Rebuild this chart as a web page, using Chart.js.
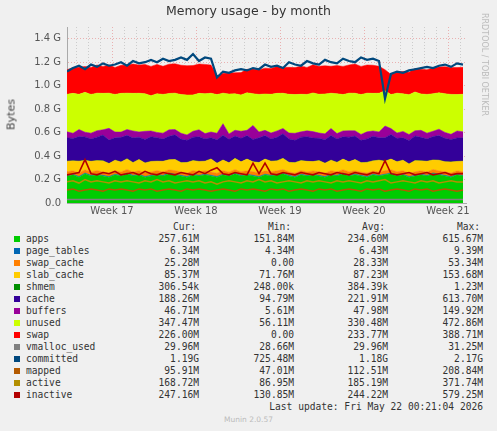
<!DOCTYPE html>
<html><head><meta charset="utf-8">
<script src="https://cdn.jsdelivr.net/npm/chart.js@4/dist/chart.umd.min.js"></script>
<style>
body{margin:0;background:#F0F0F0;width:497px;height:431px;overflow:hidden;position:relative;font-family:"DejaVu Sans",sans-serif}
#wrap{position:absolute;left:0;top:0;width:497px;height:220px}
.t{position:absolute;white-space:pre;font-family:"DejaVu Sans Mono",monospace;font-size:9.6px;color:#333}
.r{text-align:right}
.sq{position:absolute;width:6px;height:6px}
</style></head><body>
<div id="wrap"><canvas id="c" width="497" height="220"></canvas></div>
<div style="position:absolute;left:0;width:497px;top:3px;text-align:center;font-size:12.5px;color:#333">Memory usage - by month</div>
<div style="position:absolute;left:-19px;top:108px;transform:rotate(-90deg);font-size:11px;font-weight:normal;color:#444;width:60px;text-align:center">Bytes</div>
<div style="position:absolute;left:433px;top:60px;transform:rotate(90deg);font-size:8px;color:#bbb;white-space:nowrap">RRDTOOL / TOBI OETIKER</div>
<div id="leg"></div>
<script>
const weekLabels=["Week 17","Week 18","Week 19","Week 20","Week 21"];
const days=[];for(let i=0;i<67;i++)days.push(i/2);
const apps=[0.23,0.24,0.22,0.25,0.23,0.24,0.23,0.22,0.24,0.23,
0.25,0.23,0.24,0.22,0.23,0.24,0.23,0.25,0.24,0.23,
0.22,0.24,0.23,0.24,0.23,0.22,0.24,0.23,0.25,0.23,
0.24,0.23,0.22,0.24,0.23,0.24,0.25,0.23,0.22,0.24,
0.23,0.24,0.23,0.22,0.24,0.23,0.25,0.23,0.24,0.23,
0.22,0.24,0.23,0.24,0.25,0.23,0.24,0.22,0.23,0.24,
0.23,0.25,0.24,0.23,0.22,0.24,0.23];
const pageTables=[0.006,0.006,0.006,0.006,0.006,0.006,0.006,0.006,0.006,0.006,
0.006,0.006,0.006,0.006,0.006,0.006,0.006,0.006,0.006,0.006,
0.006,0.006,0.006,0.006,0.006,0.006,0.006,0.006,0.006,0.006,
0.006,0.006,0.006,0.006,0.006,0.006,0.006,0.006,0.006,0.006,
0.006,0.006,0.006,0.006,0.006,0.006,0.006,0.006,0.006,0.006,
0.006,0.006,0.006,0.006,0.006,0.006,0.006,0.006,0.006,0.006,
0.006,0.006,0.006,0.006,0.006,0.006,0.006];
const swapCache=[0.03,0.028,0.03,0.027,0.029,0.03,0.028,0.03,0.029,0.028,
0.03,0.028,0.029,0.03,0.028,0.03,0.029,0.027,0.03,0.028,
0.029,0.03,0.028,0.03,0.029,0.028,0.03,0.027,0.029,0.03,
0.028,0.03,0.029,0.028,0.03,0.028,0.029,0.03,0.028,0.03,
0.029,0.027,0.03,0.028,0.029,0.03,0.028,0.03,0.029,0.028,
0.03,0.028,0.029,0.03,0.028,0.03,0.029,0.027,0.03,0.028,
0.029,0.03,0.028,0.03,0.029,0.028,0.03];
const slabCache=[0.09,0.085,0.1,0.08,0.09,0.085,0.095,0.08,0.09,0.085,
0.09,0.08,0.095,0.085,0.09,0.08,0.09,0.085,0.095,0.08,
0.09,0.085,0.09,0.08,0.11,0.085,0.09,0.08,0.095,0.085,
0.1,0.085,0.09,0.1,0.09,0.085,0.095,0.08,0.09,0.085,
0.09,0.08,0.095,0.085,0.09,0.08,0.09,0.085,0.095,0.08,
0.09,0.085,0.1,0.08,0.09,0.085,0.09,0.08,0.095,0.085,
0.09,0.08,0.09,0.085,0.095,0.08,0.09];
const shmem=[0.0004,0.0004,0.0004,0.0004,0.0004,0.0004,0.0004,0.0004,0.0004,0.0004,
0.0004,0.0004,0.0004,0.0004,0.0004,0.0004,0.0004,0.0004,0.0004,0.0004,
0.0004,0.0004,0.0004,0.0004,0.0004,0.0004,0.0004,0.0004,0.0004,0.0004,
0.0004,0.0004,0.0004,0.0004,0.0004,0.0004,0.0004,0.0004,0.0004,0.0004,
0.0004,0.0004,0.0004,0.0004,0.0004,0.0004,0.0004,0.0004,0.0004,0.0004,
0.0004,0.0004,0.0004,0.0004,0.0004,0.0004,0.0004,0.0004,0.0004,0.0004,
0.0004,0.0004,0.0004,0.0004,0.0004,0.0004,0.0004];
const cache=[0.2,0.19,0.21,0.2,0.19,0.2,0.22,0.2,0.19,0.21,
0.2,0.21,0.19,0.2,0.21,0.2,0.19,0.2,0.21,0.2,
0.19,0.2,0.21,0.19,0.18,0.2,0.21,0.2,0.19,0.2,
0.2,0.19,0.21,0.2,0.19,0.2,0.21,0.2,0.19,0.2,
0.21,0.2,0.19,0.2,0.21,0.2,0.19,0.21,0.2,0.19,
0.2,0.21,0.19,0.2,0.21,0.2,0.19,0.2,0.21,0.2,
0.19,0.2,0.21,0.2,0.19,0.2,0.2];
const buffers=[0.05,0.045,0.06,0.04,0.05,0.055,0.045,0.1,0.05,0.045,
0.05,0.06,0.045,0.07,0.05,0.045,0.05,0.055,0.045,0.05,
0.045,0.05,0.06,0.045,0.05,0.055,0.1,0.045,0.05,0.06,
0.045,0.12,0.05,0.045,0.05,0.055,0.045,0.05,0.06,0.045,
0.05,0.055,0.045,0.05,0.06,0.045,0.05,0.055,0.045,0.05,
0.06,0.045,0.05,0.1,0.05,0.045,0.055,0.05,0.045,0.06,
0.05,0.045,0.055,0.05,0.045,0.06,0.05];
const unused=[0.32,0.34,0.3,0.34,0.33,0.32,0.31,0.3,0.32,0.33,
0.31,0.32,0.33,0.32,0.3,0.33,0.33,0.31,0.31,0.33,
0.34,0.31,0.31,0.34,0.33,0.33,0.26,0.34,0.31,0.31,
0.32,0.27,0.32,0.31,0.33,0.32,0.3,0.33,0.33,0.32,
0.31,0.33,0.33,0.34,0.3,0.34,0.31,0.32,0.32,0.34,
0.33,0.32,0.33,0.3,0.29,0.34,0.32,0.34,0.33,0.31,
0.33,0.32,0.31,0.33,0.34,0.31,0.32];
const swap=[0.21,0.22,0.23,0.22,0.23,0.24,0.23,0.24,0.23,0.24,
0.24,0.25,0.24,0.25,0.25,0.25,0.24,0.25,0.25,0.25,
0.25,0.25,0.25,0.25,0.24,0.16,0.17,0.18,0.18,0.19,
0.2,0.21,0.21,0.22,0.22,0.23,0.22,0.23,0.23,0.24,
0.23,0.24,0.24,0.24,0.23,0.24,0.24,0.24,0.25,0.24,
0.24,0.24,0.23,0.18,0.17,0.18,0.19,0.19,0.2,0.21,
0.21,0.22,0.22,0.23,0.23,0.23,0.23];
const vmallocUsed=[0.03,0.03,0.03,0.03,0.03,0.03,0.03,0.03,0.03,0.03,
0.03,0.03,0.03,0.03,0.03,0.03,0.03,0.03,0.03,0.03,
0.03,0.03,0.03,0.03,0.03,0.03,0.03,0.03,0.03,0.03,
0.03,0.03,0.03,0.03,0.03,0.03,0.03,0.03,0.03,0.03,
0.03,0.03,0.03,0.03,0.03,0.03,0.03,0.03,0.03,0.03,
0.03,0.03,0.03,0.03,0.03,0.03,0.03,0.03,0.03,0.03,
0.03,0.03,0.03,0.03,0.03,0.03,0.03];
const committed=[1.12,1.15,1.17,1.14,1.18,1.16,1.19,1.17,1.18,1.2,
1.17,1.21,1.19,1.2,1.22,1.2,1.23,1.21,1.22,1.24,
1.22,1.27,1.21,1.24,1.23,1.07,1.12,1.11,1.13,1.14,
1.13,1.15,1.14,1.18,1.16,1.17,1.15,1.2,1.18,1.17,
1.21,1.19,1.18,1.22,1.2,1.19,1.23,1.21,1.2,1.24,
1.22,1.23,1.21,0.89,1.1,1.12,1.11,1.13,1.14,1.15,
1.16,1.15,1.17,1.18,1.16,1.19,1.18];
const mapped=[0.11,0.12,0.1,0.11,0.12,0.11,0.1,0.12,0.11,0.12,
0.11,0.1,0.12,0.11,0.12,0.1,0.11,0.12,0.11,0.1,
0.12,0.11,0.12,0.11,0.1,0.11,0.12,0.11,0.1,0.12,
0.11,0.12,0.11,0.1,0.12,0.11,0.12,0.1,0.11,0.12,
0.11,0.1,0.12,0.11,0.12,0.1,0.11,0.12,0.11,0.1,
0.12,0.11,0.12,0.1,0.11,0.12,0.11,0.1,0.12,0.11,
0.12,0.1,0.11,0.12,0.11,0.1,0.11];
const active=[0.18,0.19,0.17,0.2,0.18,0.19,0.18,0.17,0.19,0.18,
0.19,0.18,0.17,0.19,0.18,0.2,0.18,0.19,0.17,0.18,
0.19,0.18,0.19,0.17,0.18,0.16,0.18,0.19,0.18,0.17,
0.19,0.18,0.2,0.18,0.19,0.17,0.18,0.19,0.18,0.17,
0.19,0.18,0.19,0.18,0.17,0.19,0.18,0.19,0.18,0.17,
0.19,0.18,0.19,0.2,0.17,0.18,0.19,0.18,0.17,0.19,
0.18,0.19,0.17,0.18,0.19,0.18,0.18];
const inactive=[0.24,0.25,0.26,0.37,0.25,0.24,0.26,0.25,0.27,0.24,
0.25,0.26,0.24,0.27,0.25,0.24,0.26,0.25,0.24,0.26,
0.25,0.24,0.27,0.25,0.28,0.3,0.25,0.24,0.26,0.25,
0.24,0.34,0.25,0.34,0.25,0.24,0.26,0.25,0.24,0.26,
0.25,0.24,0.26,0.25,0.24,0.26,0.25,0.24,0.26,0.25,
0.24,0.26,0.25,0.36,0.25,0.24,0.25,0.26,0.24,0.25,
0.26,0.24,0.25,0.26,0.24,0.25,0.25];

const pts=a=>a.map((v,i)=>({x:days[i],y:v}));
const areas=[["apps",apps,"#00CC00"],["page_tables",pageTables,"#0066B3"],["swap_cache",swapCache,"#FF8000"],["slab_cache",slabCache,"#FFCC00"],["shmem",shmem,"#008F00"],["cache",cache,"#330099"],["buffers",buffers,"#990099"],["unused",unused,"#CCFF00"],["swap",swap,"#FF0000"]];
const lines=[["vmalloc_used",vmallocUsed,"#808080",1.5],["committed",committed,"#00487D",2.2],["mapped",mapped,"#B35A00",1.5],["active",active,"#B38F00",1.5],["inactive",inactive,"#B30000",1.6]];
const ds=[];
areas.forEach((a,i)=>ds.push({label:a[0],data:pts(a[1]),backgroundColor:a[2],borderColor:a[2],borderWidth:0.5,fill:i?'-1':'origin',stack:'mem',pointRadius:0,tension:0,order:1}));
lines.forEach(l=>ds.push({label:l[0],data:pts(l[1]),borderColor:l[2],borderWidth:l[3],fill:false,stack:'s_'+l[0],pointRadius:0,tension:0,order:0}));
new Chart(document.getElementById('c'),{type:'line',data:{datasets:ds},options:{
 responsive:false,animation:false,events:[],
 layout:{padding:{left:0,right:31,top:27,bottom:0}},
 plugins:{legend:{display:false},tooltip:{enabled:false}},
 scales:{
  x:{type:'linear',min:0,max:33.25,
   afterBuildTicks:s=>{const t=[];for(let d=0.75;d<=33.25;d+=1)t.push({value:d});s.ticks=t;},
   afterFit:s=>{s.height=17;},
   ticks:{autoSkip:false,maxRotation:0,color:'#555',font:{family:'DejaVu Sans',size:10},padding:2,
    callback:v=>{const k=(v-3.75)/7;return Math.abs(k-Math.round(k))<1e-6?weekLabels[Math.round(k)]:'';}},
   grid:{color:c=>{const v=c.tick?c.tick.value:0;const k=(v-3.75)/7;return Math.abs(k-Math.round(k))<1e-6?'rgba(230,150,150,0.7)':'rgba(180,180,180,0.6)';},
    drawTicks:false},border:{display:true,color:'#aaa',dash:[1,2]}},
  y:{stacked:true,min:0,max:1.5,
   afterFit:s=>{s.width=67;},
   afterBuildTicks:s=>{const t=[];for(let i=0;i<=15;i++)t.push({value:i/10});s.ticks=t;},
   ticks:{color:'#555',font:{family:'DejaVu Sans',size:10},padding:6,
    callback:v=>{const n=Math.round(v*10);if(n%2||n>14)return '';return n===0?'0.0':(n/10).toFixed(1)+' G';}},
   grid:{color:c=>{const n=Math.round((c.tick?c.tick.value:0)*10);return n%2?'rgba(180,180,180,0.6)':'rgba(230,150,150,0.7)';},drawTicks:false},
   border:{display:true,color:'#aaa',dash:[1,2]}}
 }}});

const legRows=[["apps","#00CC00","257.61M","151.84M","234.60M","615.67M"],["page_tables","#0066B3","6.34M","4.34M","6.43M","9.39M"],["swap_cache","#FF8000","25.28M","0.00","28.33M","53.34M"],["slab_cache","#FFCC00","85.37M","71.76M","87.23M","153.68M"],["shmem","#008F00","306.54k","248.00k","384.39k","1.23M"],["cache","#330099","188.26M","94.79M","221.91M","613.70M"],["buffers","#990099","46.71M","5.61M","47.98M","149.92M"],["unused","#CCFF00","347.47M","56.11M","330.48M","472.86M"],["swap","#FF0000","226.00M","0.00","233.77M","388.71M"],["vmalloc_used","#808080","29.96M","28.66M","29.96M","31.25M"],["committed","#00487D","1.19G","725.48M","1.18G","2.17G"],["mapped","#B35A00","95.91M","47.01M","112.51M","208.84M"],["active","#B38F00","168.72M","86.95M","185.19M","371.74M"],["inactive","#B30000","247.16M","130.85M","244.22M","579.25M"]];
let h='';const rights=[199,294,388,483];
['Cur:','Min:','Avg:','Max:'].forEach((t,j)=>{h+=`<div class="t r" style="right:${497-rights[j]+3}px;top:221px">${t}</div>`;});
legRows.forEach((r,i)=>{const y=233+i*12;
 h+=`<div class="sq" style="left:14px;top:${y+3}px;background:${r[1]}"></div><div class="t" style="left:26px;top:${y}px">${r[0]}</div>`;
 for(let j=0;j<4;j++)h+=`<div class="t r" style="right:${497-rights[j]}px;top:${y}px">${r[j+2]}</div>`;});
h+=`<div class="t r" style="right:14px;top:401px">Last update: Fri May 22 00:21:04 2026</div>`;
h+=`<div style="position:absolute;left:0;width:497px;text-align:center;top:415px;font-size:7.5px;color:#bbb">Munin 2.0.57</div>`;
document.getElementById('leg').innerHTML=h;
</script></body></html>
